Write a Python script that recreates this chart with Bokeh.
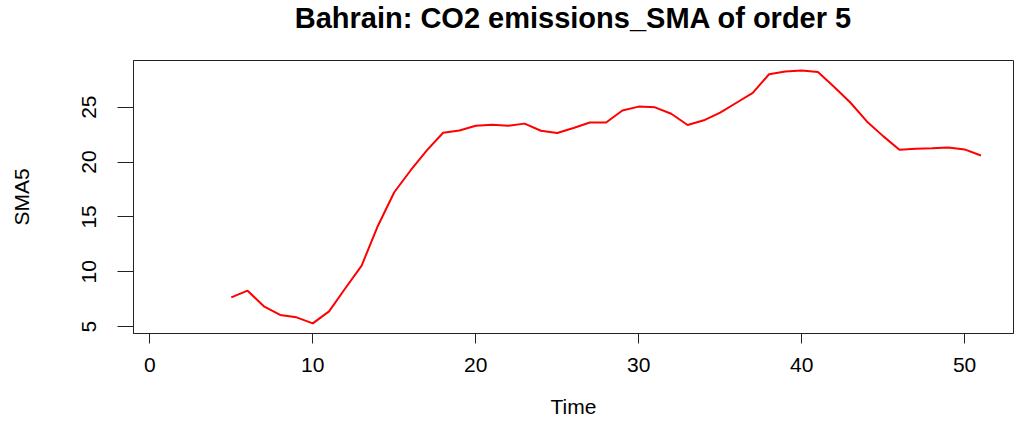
from bokeh.plotting import figure
from bokeh.models import FixedTicker, Range1d, LinearAxis
from bokeh.embed import file_html
from bokeh.resources import INLINE

# Data (SMA of order 5, time index 5..51)
time = list(range(5, 52))
sma5 = [7.67, 8.28, 6.86, 6.07, 5.85, 5.30, 6.40, 8.50, 10.57, 14.20,
        17.25, 19.23, 21.06, 22.67, 22.88, 23.30, 23.40, 23.30, 23.50, 22.85,
        22.64, 23.10, 23.60, 23.60, 24.70, 25.05, 24.98, 24.40, 23.37, 23.80,
        24.50, 25.40, 26.30, 28.00, 28.24, 28.33, 28.20, 26.84, 25.40, 23.70,
        22.36, 21.12, 21.20, 21.26, 21.33, 21.15, 20.60]
x_ticks = [0, 10, 20, 30, 40, 50]
y_ticks = [5, 10, 15, 20, 25]
title_text = "Bahrain: CO2 emissions_SMA of order 5"

FONT = "Liberation Sans"

p = figure(width=1024, height=428, output_backend="svg", toolbar_location=None,
           x_range=Range1d(-1.0, 53.0), y_range=Range1d(4.38, 29.25),
           min_border_left=133, min_border_right=11, min_border_top=60,
           min_border_bottom=95, title=title_text)

p.title.align = "center"
p.title.vertical_align = "top"
p.title.text_font = FONT
p.title.text_font_size = "29px"
p.title.text_font_style = "bold"
p.title.text_color = "black"
p.title.standoff = 0

xa = p.below[0]
ya = p.left[0]
xa.ticker = FixedTicker(ticks=x_ticks)
ya.ticker = FixedTicker(ticks=y_ticks)

# invisible spacer (axis with one blank, hidden tick) between frame and title
spacer = LinearAxis(ticker=FixedTicker(ticks=[x_ticks[0]]),
                    major_label_overrides={x_ticks[0]: ""},
                    axis_line_color=None,
                    major_tick_line_color=None, minor_tick_line_color=None,
                    major_tick_out=25, major_tick_in=0, minor_tick_out=0,
                    major_label_standoff=0, axis_label_standoff=0,
                    major_label_text_font_size="1px")
p.add_layout(spacer, "above")

p.line(time, sma5, line_color="#ff0000", line_width=2)

p.xgrid.visible = False
p.ygrid.visible = False
p.background_fill_color = "white"
p.border_fill_color = "white"
p.outline_line_color = "#222222"
p.outline_line_width = 1

for ax in (xa, ya):
    ax.minor_tick_line_color = None
    ax.axis_line_color = "#222222"
    ax.major_tick_line_color = "#222222"
    ax.major_tick_in = 0
    ax.major_label_text_font = FONT
    ax.major_label_text_font_size = "21px"
    ax.major_label_text_color = "black"
    ax.axis_label_text_font = FONT
    ax.axis_label_text_font_size = "21px"
    ax.axis_label_text_font_style = "normal"
    ax.axis_label_text_color = "black"

xa.major_tick_out = 10
xa.major_label_standoff = 14
xa.axis_label = "Time"
xa.axis_label_standoff = 20

ya.major_tick_out = 16
ya.major_label_orientation = "vertical"
ya.major_label_standoff = 21
ya.axis_label = "SMA5"
ya.axis_label_standoff = 47

open("out.html", "w").write(file_html(p, INLINE))
